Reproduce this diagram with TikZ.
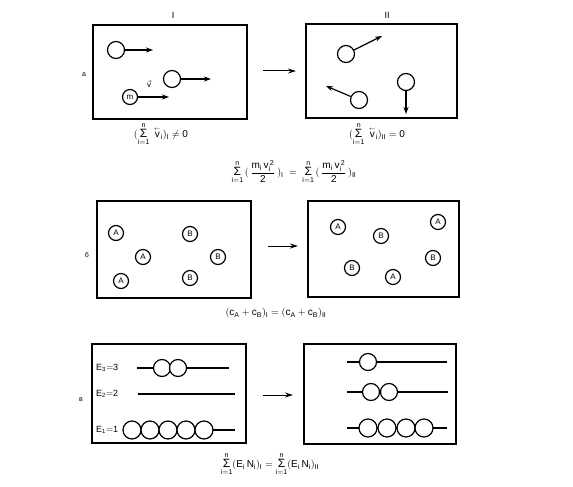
\documentclass[tikz,border=0pt]{standalone}
\usepackage{amsmath}
\usepackage{fontspec}
\setmainfont{Liberation Sans}
\usetikzlibrary{arrows.meta}
\newcommand\Sg{\mathop{\text{\large Σ}}\limits_{\mathrm{i=1}}^{\mathrm{n}}}
\newcommand\va{\overset{\scriptscriptstyle\leftarrow}{\mathrm v}}
\begin{document}
\begin{tikzpicture}[x=1pt,y=-1pt,
  frame/.style={line width=1.2pt},
  ball/.style={draw, circle, line width=1.2pt, minimum size=17pt, inner sep=0pt, fill=white},
  sball/.style={ball, minimum size=15pt, font=\footnotesize},
  eball/.style={ball, minimum size=18pt},
  vel/.style={line width=1.2pt, -{Stealth[length=7pt,width=5pt]}},
  trans/.style={line width=1pt, -{Stealth[length=8pt,width=5pt]}},
  level/.style={line width=1.2pt},
  lbl/.style={font=\small},
  form/.style={font=\normalsize}]
\useasboundingbox (0,0) rectangle (573,487);
% ---- panel a ----
\draw[frame] (93,25) rectangle (247,119);
\node[lbl] (I) at (173,15) {I};
\node[font=\scriptsize] (la) at (84,75) {a};
\node[ball] (a1) at (116,50) {};
\coordinate (a1e) at (153,50);
\draw[vel] (a1) -- (a1e);
\node[ball] (a2) at (172,79) {};
\coordinate (a2e) at (211,79);
\draw[vel] (a2) -- (a2e);
\node[sball] (am) at (130,97) {m};
\coordinate (ame) at (169,97);
\draw[vel] (am) -- (ame);
\node[font=\footnotesize] (vl) at (149,84) {$\vec{\mathrm v}$};
\coordinate (ta1) at (263,71); \coordinate (ta2) at (296,71);
\draw[trans] (ta1) -- (ta2);
\draw[frame] (306,24) rectangle (457,118);
\node[lbl] (II) at (387,15) {II};
\node[ball] (b1) at (346,54) {};
\coordinate (b1e) at (382,36);
\draw[vel] (b1) -- (b1e);
\node[ball] (b2) at (359,100) {};
\coordinate (b2e) at (326,86);
\draw[vel] (b2) -- (b2e);
\node[ball] (b3) at (406,82) {};
\coordinate (b3e) at (406,114);
\draw[vel] (b3) -- (b3e);
\node[form] (fa1) at (161,134) {$(\Sg\;\va_{\mathrm i})_{\mathrm I}\neq \mathrm{0}$};
\node[form] (fa2) at (377,134) {$(\Sg\;\va_{\mathrm i})_{\mathrm{II}}=\mathrm{0}$};
\node[form] (fa3) at (294,172) {$\Sg\,(\,\dfrac{\mathrm{m_i\, v_i^{\,2}}}{\mathrm 2}\,)_{\mathrm I}\;=\;\Sg\,(\,\dfrac{\mathrm{m_i\, v_i^{\,2}}}{\mathrm 2}\,)_{\mathrm{II}}$};
% ---- panel b ----
\draw[frame] (97,201) rectangle (251,298);
\node[font=\scriptsize] (lb) at (87,255) {б};
\node[sball] (A1) at (116,233) {A};
\node[sball] (A2) at (143,257) {A};
\node[sball] (A3) at (121,281) {A};
\node[sball] (B1) at (190,234) {B};
\node[sball] (B2) at (218,257) {B};
\node[sball] (B3) at (190,278) {B};
\coordinate (tb1) at (268,246); \coordinate (tb2) at (298,246);
\draw[trans] (tb1) -- (tb2);
\draw[frame] (308,201) rectangle (459,297);
\node[sball] (C1) at (338,227) {A};
\node[sball] (C2) at (381,236) {B};
\node[sball] (C3) at (438,222) {A};
\node[sball] (C4) at (352,268) {B};
\node[sball] (C5) at (393,277) {A};
\node[sball] (C6) at (433,258) {B};
\node[form] (fb) at (276,313) {$(\mathrm{c_A}+\mathrm{c_B})_{\mathrm I}=(\mathrm{c_A}+\mathrm{c_B})_{\mathrm{II}}$};
% ---- panel c ----
\draw[frame] (92,344) rectangle (246,443);
\node[font=\scriptsize] (lc) at (81,400) {в};
\node[font=\small, anchor=west, inner sep=0pt] (E3) at (96,368) {$\mathrm{E_3{=}3}$};
\node[font=\small, anchor=west, inner sep=0pt] (E2) at (96,394) {$\mathrm{E_2{=}2}$};
\node[font=\small, anchor=west, inner sep=0pt] (E1) at (96,430) {$\mathrm{E_1{=}1}$};
\coordinate (l3a) at (137,368); \coordinate (l3b) at (229,368);
\draw[level] (l3a) -- (l3b);
\node[ball] (p31) at (162,368) {};
\node[ball] (p32) at (178,368) {};
\coordinate (l2a) at (138,394); \coordinate (l2b) at (235,394);
\draw[line width=2.2pt] (l2a) -- (l2b);
\coordinate (l1a) at (204,430); \coordinate (l1b) at (235,430);
\draw[level] (l1a) -- (l1b);
\foreach \i/\x in {1/132,2/150,3/168,4/186,5/204} { \node[eball] (p1\i) at (\x,430) {}; }
\coordinate (tc1) at (263,395); \coordinate (tc2) at (293,395);
\draw[trans] (tc1) -- (tc2);
\draw[frame] (304,344) rectangle (456,444);
\coordinate (r3a) at (347,362); \coordinate (r3b) at (447,362);
\draw[level] (r3a) -- (r3b);
\node[ball] (q31) at (368,362) {};
\coordinate (r2a) at (347,392); \coordinate (r2b) at (448,392);
\draw[level] (r2a) -- (r2b);
\node[ball] (q21) at (371,392) {};
\node[ball] (q22) at (389,392) {};
\coordinate (r1a) at (347,428); \coordinate (r1b) at (447,428);
\draw[level] (r1a) -- (r1b);
\foreach \i/\x in {1/368,2/387,3/406,4/424} { \node[eball] (q1\i) at (\x,428) {}; }
\node[form] (fc) at (270,464) {$\Sg(\mathrm{E_i\,N_i})_{\mathrm I}=\Sg(\mathrm{E_i\,N_i})_{\mathrm{II}}$};
\end{tikzpicture}
\end{document}
